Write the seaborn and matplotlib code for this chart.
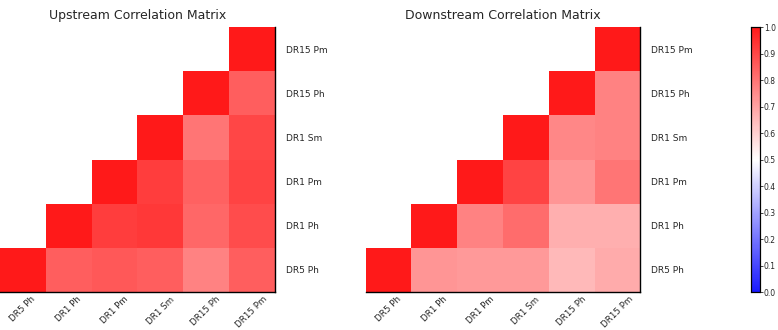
import numpy as np
import pandas as pd
import matplotlib
matplotlib.use("Agg")
import matplotlib.pyplot as plt
import seaborn as sns

sns.set_style('white')
plt.rcParams['font.family'] = ['DejaVu Sans']

labels = ['DR5 Ph', 'DR1 Ph', 'DR1 Pm', 'DR1 Sm', 'DR15 Ph', 'DR15 Pm']

# upper part of each matrix, row by row (values from the diagonal to the right)
up_dr5_ph = [1.00, 0.85, 0.86, 0.85, 0.77, 0.85]
up_dr1_ph = [1.00, 0.92, 0.93, 0.83, 0.89]
up_dr1_pm = [1.00, 0.92, 0.84, 0.91]
up_dr1_sm = [1.00, 0.80, 0.90]
up_dr15_ph = [1.00, 0.85]
up_dr15_pm = [1.00]

down_dr5_ph = [1.00, 0.73, 0.72, 0.72, 0.65, 0.68]
down_dr1_ph = [1.00, 0.77, 0.82, 0.675, 0.675]
down_dr1_pm = [1.00, 0.91, 0.73, 0.80]
down_dr1_sm = [1.00, 0.76, 0.77]
down_dr15_ph = [1.00, 0.77]
down_dr15_pm = [1.00]


def build(rows):
    n = len(labels)
    m = np.zeros((n, n))
    for i, r in enumerate(rows):
        m[i, i:] = r
        m[i:, i] = r
    return pd.DataFrame(m, index=labels, columns=labels)


upstream = build([up_dr5_ph, up_dr1_ph, up_dr1_pm, up_dr1_sm, up_dr15_ph, up_dr15_pm])
downstream = build([down_dr5_ph, down_dr1_ph, down_dr1_pm, down_dr1_sm, down_dr15_ph, down_dr15_pm])
mask = np.tril(np.ones((6, 6), dtype=bool), k=-1)

fig = plt.figure(figsize=(7.78, 3.30), dpi=100)
ax1 = fig.add_axes([0.0, 0.115, 0.353, 0.803])
ax2 = fig.add_axes([0.470, 0.115, 0.353, 0.803])
cax = fig.add_axes([0.965, 0.115, 0.0116, 0.803])

for ax, df, title, cbar in [(ax1, upstream, 'Upstream Correlation Matrix', False),
                            (ax2, downstream, 'Downstream Correlation Matrix', True)]:
    sns.heatmap(df, mask=mask, cmap='bwr', vmin=0, vmax=1, alpha=0.9, ax=ax,
                cbar=cbar, cbar_ax=cax if cbar else None,
                cbar_kws={'ticks': np.arange(0, 1.01, 0.1)} if cbar else None)
    ax.invert_yaxis()
    ax.yaxis.tick_right()
    ax.set_yticklabels(labels, rotation=0, fontsize=6.5)
    ax.set_xticklabels(labels, rotation=45, fontsize=6.3)
    ax.tick_params(axis='y', length=0, pad=8)
    ax.tick_params(axis='x', length=0, pad=2)
    ax.set_title(title, fontsize=9)
    for side in ['top', 'left']:
        ax.spines[side].set_visible(False)
    for side in ['right', 'bottom']:
        ax.spines[side].set_visible(True)
        ax.spines[side].set_color('black')
        ax.spines[side].set_linewidth(1.0)
    ax.set_xlabel('')
    ax.set_ylabel('')

cax.tick_params(labelsize=5.5, length=2, width=0.6, pad=1)
cax.yaxis.set_major_formatter(matplotlib.ticker.FormatStrFormatter('%.1f'))
for s in cax.spines.values():
    s.set_visible(True)
    s.set_color('black')
    s.set_linewidth(0.8)

fig.savefig('out.png', dpi=100)
